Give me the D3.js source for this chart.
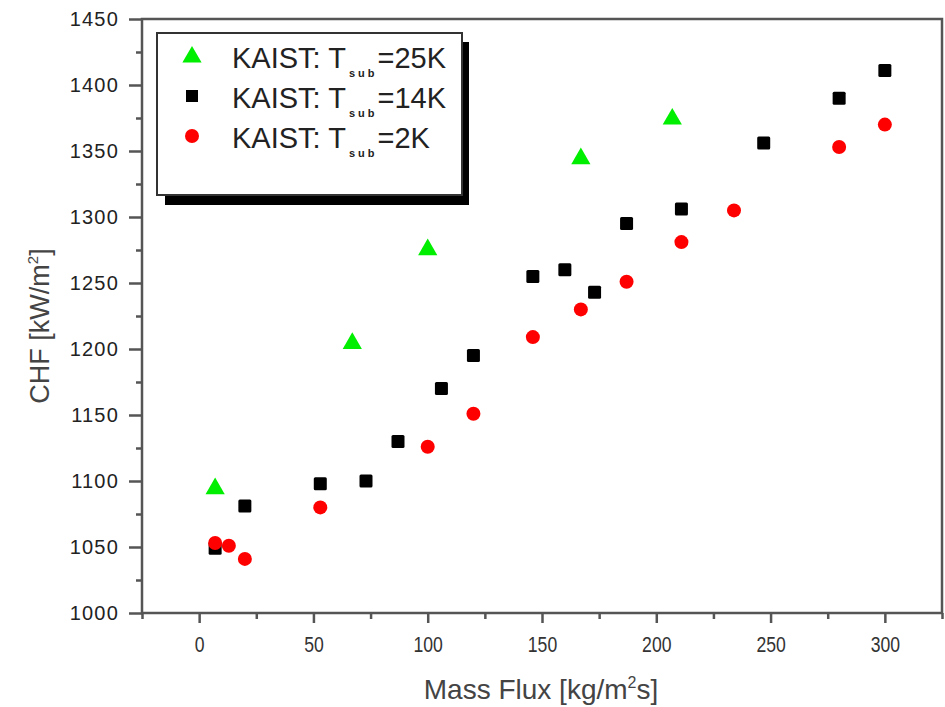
<!DOCTYPE html>
<html>
<head>
<meta charset="utf-8">
<script src="https://cdn.jsdelivr.net/npm/d3@7"></script>
<style>
  html, body { margin: 0; padding: 0; background: #fff; }
  svg { display: block; font-family: "Liberation Sans", Arial, sans-serif; }
</style>
</head>
<body>
<svg id="chart" width="945" height="707"></svg>
<script>
// ---- data ----
const xTicks = [0, 50, 100, 150, 200, 250, 300];
const yTicks = [1000, 1050, 1100, 1150, 1200, 1250, 1300, 1350, 1400, 1450];

const series25K_x = [7, 67, 100, 167, 207];
const series25K_y = [1095, 1205, 1276, 1345, 1375];

const series14K_x = [7, 20, 53, 73, 87, 106, 120, 146, 160, 173, 187, 211, 247, 280, 300];
const series14K_y = [1049, 1081, 1098, 1100, 1130, 1170, 1195, 1255, 1260, 1243, 1295, 1306, 1356, 1390, 1411];

const series2K_x = [7, 13, 20, 53, 100, 120, 146, 167, 187, 211, 234, 280, 300];
const series2K_y = [1053, 1051, 1041, 1080, 1126, 1151, 1209, 1230, 1251, 1281, 1305, 1353, 1370];

const legendLabels = [
  { pre: "KAIST: T", sub: "sub", post: "=25K" },
  { pre: "KAIST: T", sub: "sub", post: "=14K" },
  { pre: "KAIST: T", sub: "sub", post: "=2K" }
];

// ---- layout ----
const svg = d3.select("#chart");
const L = 142, R = 942, T = 19, B = 613;
const x = d3.scaleLinear().domain([-25, 325]).range([L, R]);
const y = d3.scaleLinear().domain([1000, 1450]).range([B, T]);
const axisColor = "#555";

// frame
svg.append("rect")
  .attr("x", L).attr("y", T).attr("width", R - L).attr("height", B - T)
  .attr("fill", "none").attr("stroke", axisColor).attr("stroke-width", 2.5);

// x axis
const xAxisMajor = d3.axisBottom(x).tickValues(xTicks).tickSize(10).tickPadding(13).tickFormat(d3.format("d"));
const gx = svg.append("g").attr("transform", `translate(0,${B})`).call(xAxisMajor);
gx.select(".domain").remove();
gx.selectAll("line").attr("stroke", axisColor).attr("stroke-width", 2.5);
gx.selectAll("text").attr("font-size", 22).attr("fill", "#333")
  .attr("transform", "scale(0.8,1)");

const xMinor = d3.range(-25, 326, 50);
const gxm = svg.append("g").attr("transform", `translate(0,${B})`)
  .call(d3.axisBottom(x).tickValues(xMinor).tickSize(6).tickFormat(""));
gxm.select(".domain").remove();
gxm.selectAll("line").attr("stroke", axisColor).attr("stroke-width", 2.5);

// y axis
const gy = svg.append("g").attr("transform", `translate(${L},0)`)
  .call(d3.axisLeft(y).tickValues(yTicks).tickSize(13).tickPadding(10).tickFormat(d3.format("d")));
gy.select(".domain").remove();
gy.selectAll("line").attr("stroke", axisColor).attr("stroke-width", 2.5);
gy.selectAll("text").attr("font-size", 20).attr("fill", "#222").attr("letter-spacing", 1.2);

const yMinor = d3.range(1025, 1450, 50);
const gym = svg.append("g").attr("transform", `translate(${L},0)`)
  .call(d3.axisLeft(y).tickValues(yMinor).tickSize(6).tickFormat(""));
gym.select(".domain").remove();
gym.selectAll("line").attr("stroke", axisColor).attr("stroke-width", 2.5);

// axis titles
const xt = svg.append("text").attr("x", 541).attr("y", 699).attr("text-anchor", "middle")
  .attr("font-size", 28).attr("fill", "#444");
xt.append("tspan").text("Mass Flux [kg/m");
xt.append("tspan").attr("font-size", 16).attr("dy", -11).text("2");
xt.append("tspan").attr("dy", 11).text("s]");

const yt = svg.append("text").attr("transform", "translate(49,326) rotate(-90)")
  .attr("text-anchor", "middle").attr("font-size", 27).attr("fill", "#444");
yt.append("tspan").text("CHF [kW/m");
yt.append("tspan").attr("font-size", 15).attr("dy", -11).text("2");
yt.append("tspan").attr("dy", 11).text("]");

// markers
const triangle = d3.symbol().type(d3.symbolTriangle).size(160);
const square = 13, circR = 7;

const g = svg.append("g");
g.selectAll(".sq").data(d3.range(series14K_x.length)).join("rect")
  .attr("x", i => x(series14K_x[i]) - square / 2)
  .attr("y", i => y(series14K_y[i]) - square / 2)
  .attr("width", square).attr("height", square).attr("rx", 1.5)
  .attr("fill", "#000");

g.selectAll(".tri").data(d3.range(series25K_x.length)).join("path")
  .attr("d", triangle)
  .attr("transform", i => `translate(${x(series25K_x[i])},${y(series25K_y[i]) + 1})`)
  .attr("fill", "#00ee00");

g.selectAll(".ci").data(d3.range(series2K_x.length)).join("circle")
  .attr("cx", i => x(series2K_x[i]))
  .attr("cy", i => y(series2K_y[i]))
  .attr("r", circR).attr("fill", "#ff0000");

// legend
const lg = svg.append("g");
lg.append("rect").attr("x", 165).attr("y", 42).attr("width", 304).attr("height", 163).attr("fill", "#000");
lg.append("rect").attr("x", 157).attr("y", 33).attr("width", 305).attr("height", 162)
  .attr("fill", "#fff").attr("stroke", "#333").attr("stroke-width", 2);

const rowsY = [56, 96, 136];
lg.append("path").attr("d", triangle).attr("transform", `translate(192,${rowsY[0] + 1})`).attr("fill", "#00ee00");
lg.append("rect").attr("x", 192 - 6).attr("y", rowsY[1] - 6).attr("width", 12).attr("height", 12).attr("fill", "#000");
lg.append("circle").attr("cx", 192).attr("cy", rowsY[2]).attr("r", circR).attr("fill", "#ff0000");

legendLabels.forEach((d, i) => {
  const t = lg.append("text").attr("x", 232).attr("y", rowsY[i] + 12)
    .attr("font-size", 29).attr("fill", "#222");
  t.append("tspan").text(d.pre);
  t.append("tspan").attr("font-size", 11).attr("font-weight", "bold")
    .attr("letter-spacing", 3).attr("dx", 3).attr("dy", 9).text(d.sub);
  t.append("tspan").attr("dy", -9).text(d.post);
});
</script>
</body>
</html>
